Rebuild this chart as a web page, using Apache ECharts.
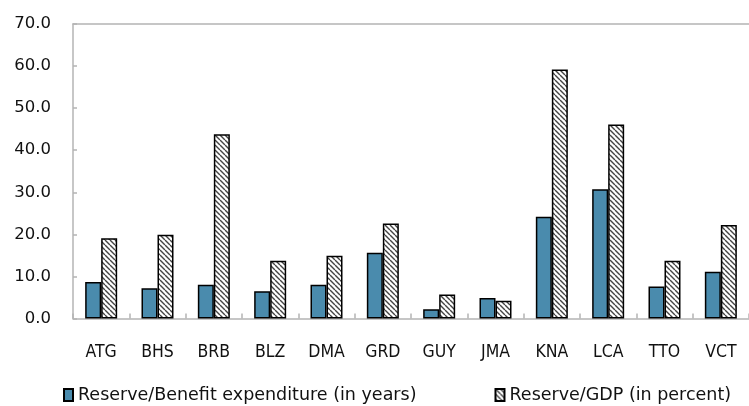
<!DOCTYPE html>
<html>
<head>
<meta charset="utf-8">
<script src="https://cdn.jsdelivr.net/npm/echarts@6/dist/echarts.min.js"></script>
<style>
  html, body { margin: 0; padding: 0; background: #fff; }
  #main { width: 749px; height: 406px; }
</style>
</head>
<body>
<div id="main"></div>
<script>
// country codes along the x axis
var countries = ['ATG', 'BHS', 'BRB', 'BLZ', 'DMA', 'GRD', 'GUY', 'JMA', 'KNA', 'LCA', 'TTO', 'VCT'];
// Reserve / benefit expenditure, years
var reserveYears = [8.7, 7.2, 8.0, 6.5, 8.0, 15.6, 2.2, 4.9, 24.2, 30.7, 7.6, 11.1];
// Reserve / GDP, percent
var reserveGdp = [19.1, 19.9, 43.8, 13.7, 14.9, 22.6, 5.7, 4.2, 59.2, 46.1, 13.7, 22.2];
var seriesNames = ['Reserve/Benefit expenditure (in years)', 'Reserve/GDP (in percent)'];

// hatch fill: thin dark diagonal stripes on white
function makeHatch(){
	var s = 5;
	var c = document.createElement('canvas');
	c.width = s; c.height = s;
	var ctx = c.getContext('2d');
	ctx.fillStyle = '#fff';
	ctx.fillRect(0, 0, s, s);
	ctx.strokeStyle = '#444';
	ctx.lineWidth = 1.4;
	ctx.beginPath();
	for (var k = -1; k <= 1; k++) {
		ctx.moveTo(k * s, 0);
		ctx.lineTo(k * s + s, s);
	}
	ctx.stroke();
	return c;
}

var axisGray = '#b4b4b4';
var chart = echarts.init(document.getElementById('main'));
chart.setOption({
	animation: false,
	backgroundColor: '#fff',
	grid: {
		left: 73,
		top: 24,
		width: 680,
		height: 294.5
	},
	legend: {
		left: 58,
		top: 381,
		width: 691,
		icon: 'rect',
		itemWidth: 9,
		itemHeight: 12,
		itemGap: 78,
		textStyle: {
			fontFamily: 'DejaVu Sans',
			fontSize: 17.5,
			color: '#111'
		},
		data: seriesNames
	},
	xAxis: [{
		type: 'category',
		data: countries,
		axisLine: { lineStyle: { color: axisGray, width: 1.5 } },
		axisTick: { show: true, inside: true, length: 5, lineStyle: { color: axisGray, width: 1.5 } },
		axisLabel: {
			margin: 25,
			fontFamily: 'DejaVu Sans Condensed',
			fontSize: 17.5,
			color: '#111'
		}
	}, {
		type: 'category',
		position: 'top',
		data: countries,
		axisLine: { lineStyle: { color: axisGray, width: 1.5 } },
		axisTick: { show: false },
		axisLabel: { show: false }
	}],
	yAxis: {
		type: 'value',
		min: 0,
		max: 70,
		interval: 10,
		axisLine: { show: true, lineStyle: { color: axisGray, width: 1.5 } },
		axisTick: { show: true, inside: true, length: 4, lineStyle: { color: axisGray, width: 1.5 } },
		splitLine: { show: false },
		axisLabel: {
			margin: 22,
			fontFamily: 'DejaVu Sans',
			fontSize: 16.5,
			color: '#111',
			formatter: function(v){ return v.toFixed(1); }
		}
	},
	series: [{
		name: seriesNames[0],
		type: 'bar',
		data: reserveYears,
		barWidth: 16,
		barGap: '0%',
		itemStyle: { color: '#4a8bad', borderColor: '#000', borderWidth: 1.5 }
	}, {
		name: seriesNames[1],
		type: 'bar',
		data: reserveGdp,
		barWidth: 16,
		barGap: '0%',
		itemStyle: {
			color: { image: makeHatch(), repeat: 'repeat' },
			borderColor: '#000',
			borderWidth: 1.5
		}
	}]
});
</script>
</body>
</html>
